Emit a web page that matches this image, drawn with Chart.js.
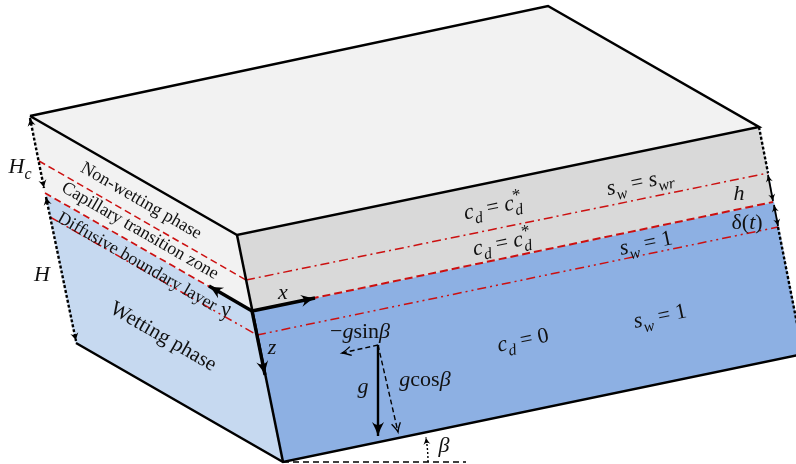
<!DOCTYPE html>
<html>
<head>
<meta charset="utf-8">
<script src="https://cdn.jsdelivr.net/npm/chart.js@4.4.1/dist/chart.umd.min.js"></script>
<style>
  html, body { margin: 0; padding: 0; background: #fff; }
  #box { width: 796px; height: 464px; }
</style>
</head>
<body>
<div id="box"><canvas id="layers" width="796" height="464"></canvas></div>
<script>
// faces of the block (pixel-like coordinates, y down)
const topFace = [[30, 116], [548, 6], [759, 127], [237, 235]];
const leftFace = [[30, 116], [237, 235], [283, 462], [76, 343]];
const leftNonWetting = [[30, 116], [237, 235], [252, 311], [45, 193]];
const rightFace = [[237, 235], [759, 127], [803, 354], [283, 462]];
const rightNonWetting = [[237, 235], [759, 127], [773, 202], [252, 311]];

// layer boundaries
const capillaryLeft = [[39, 161], [246, 280]];
const capillaryRight = [[246, 280], [768, 173]];
const wettingLeft = [[45, 193], [252, 311]];
const wettingRight = [[252, 311], [773, 202]];
const diffusiveLeft = [[50, 217], [257, 335]];
const diffusiveRight = [[257, 335], [778, 227]];

// edges
const topOutline = [[30, 116], [548, 6], [759, 127], [237, 235], [30, 116]];
const frontEdge = [[237, 235], [283, 462]];
const bottomEdges = [[76, 343], [283, 462], [803, 354]];
const rightEdgeTop = [[759, 127], [768, 173]];
const rightEdgeBottom = [[778, 227], [803, 354]];

// dimension arrows
const hcArrow = [[30, 118], [44, 188]];
const bigHArrow = [[46, 197], [76, 341]];
const hArrow = [[768, 175], [773, 201]];
const deltaArrow = [[774, 205], [778, 226]];

// axes and gravity
const axisX = [[252, 311], [315, 298]];
const axisY = [[252, 311], [209, 286]];
const axisZ = [[252, 311], [265, 375]];
const gravity = [[378, 345], [378, 436]];
const gCos = [[378, 345], [398, 432]];
const gSin = [[378, 345], [342, 353]];
const slopeBase = [[283, 462], [466, 462]];
const betaArc = { centre: [283, 462], radius: 145, from: 0, to: -0.17 };

// text
const phaseNames = ['Non-wetting phase', 'Capillary transition zone', 'Diffusive boundary layer', 'Wetting phase'];
const phaseAt = [[141, 201], [140, 231], [137, 262], [163, 337]];
const mathLabels = [
  { at: [20, 166], rot: 0, parts: [['H', 'i'], ['c', 'b']] },
  { at: [42, 274], rot: 0, parts: [['H', 'i']] },
  { at: [739, 193], rot: 0, parts: [['h', 'i']] },
  { at: [747, 222], rot: 0, parts: [['δ(', 'r'], ['t', 'i'], [')', 'r']] },
  { at: [493, 207], rot: -11.7, parts: [['c', 'i'], ['d', 'b'], [' = ', 'r'], ['c', 'i'], ['*', 'p'], ['d', 'b']] },
  { at: [502, 243], rot: -11.7, parts: [['c', 'i'], ['d', 'b'], [' = ', 'r'], ['c', 'i'], ['*', 'p'], ['d', 'b']] },
  { at: [640, 182], rot: -11.7, parts: [['s', 'i'], ['w', 'b'], [' = ', 'r'], ['s', 'i'], ['wr', 'b']] },
  { at: [646, 243], rot: -11.7, parts: [['s', 'i'], ['w', 'b'], [' = ', 'r'], ['1', 'r']] },
  { at: [523, 340], rot: -11.7, parts: [['c', 'i'], ['d', 'b'], [' = ', 'r'], ['0', 'r']] },
  { at: [660, 316], rot: -11.7, parts: [['s', 'i'], ['w', 'b'], [' = ', 'r'], ['1', 'r']] },
  { at: [283, 292], rot: 0, parts: [['x', 'i']] },
  { at: [226, 309], rot: 0, parts: [['y', 'i']] },
  { at: [272, 347], rot: 0, parts: [['z', 'i']] },
  { at: [360, 331], rot: 0, parts: [['−', 'r'], ['g', 'i'], ['sin', 'r'], ['β', 'i']] },
  { at: [363, 386], rot: 0, parts: [['g', 'i']] },
  { at: [425, 379], rot: 0, parts: [['g', 'i'], ['cos', 'r'], ['β', 'i']] },
  { at: [444, 445], rot: 0, parts: [['β', 'i']] },
];

const SERIF = "'Liberation Serif', 'DejaVu Serif', serif";
const RED = '#cc1010';

const toXY = (pts) => pts.map(([x, y]) => ({ x, y }));

function shape(pts, color) {
  return {
    data: toXY([...pts, pts[0]]),
    showLine: true,
    fill: 'shape',
    backgroundColor: color,
    borderColor: color,
    borderWidth: 1,
    pointRadius: 0,
  };
}

function line(pts, color, width, dash) {
  return {
    data: toXY(pts),
    showLine: true,
    fill: false,
    borderColor: color,
    borderWidth: width,
    borderDash: dash || [],
    borderCapStyle: 'butt',
    borderJoinStyle: 'miter',
    pointRadius: 0,
  };
}

const dotted = [3, 2];
const dashDot = [9, 4, 2, 4];
const dashDotDot = [9, 4, 2, 4, 2, 4];

// painter's order: first is at the bottom
const layers = [
  shape(rightFace, '#8db0e3'),
  shape(rightNonWetting, '#d9d9d9'),
  shape(leftFace, '#c6d9f0'),
  shape(leftNonWetting, '#f2f2f2'),
  shape(topFace, '#f2f2f2'),
  line(capillaryLeft, RED, 1.5, [7, 4]),
  line(capillaryRight, RED, 1.5, dashDot),
  line(wettingLeft, RED, 1.7, [7, 4]),
  line(wettingRight, RED, 2, [8, 4]),
  line(diffusiveLeft, RED, 1.5, dashDotDot),
  line(diffusiveRight, RED, 1.5, dashDotDot),
  line(topOutline, '#000', 2.5),
  line(frontEdge, '#000', 2.5),
  line(bottomEdges, '#000', 2.5),
  line(rightEdgeTop, '#000', 2.4, dotted),
  line(rightEdgeBottom, '#000', 2.4, dotted),
  line(hcArrow, '#000', 2.4, dotted),
  line(bigHArrow, '#000', 2.4, dotted),
  line(hArrow, '#000', 1.8),
  line(deltaArrow, '#000', 1.8),
  line(slopeBase, '#000', 1.5, [6, 4]),
  line(gSin, '#000', 1.4, [5, 3]),
  line(gCos, '#000', 1.4, [5, 3]),
  line(gravity, '#000', 2.4),
  line(axisX, '#000', 3.4),
  line(axisY, '#000', 3.4),
  line(axisZ, '#000', 3.4),
];
layers.forEach((ds, i) => { ds.order = layers.length - i; });

function head(ctx, tip, from, len, wid, open) {
  const a = Math.atan2(tip.y - from.y, tip.x - from.x);
  ctx.save();
  ctx.translate(tip.x, tip.y);
  ctx.rotate(a);
  ctx.beginPath();
  if (open) {
    ctx.moveTo(-len, -wid);
    ctx.quadraticCurveTo(-len * 0.35, -wid * 0.2, 0, 0);
    ctx.quadraticCurveTo(-len * 0.35, wid * 0.2, -len, wid);
    ctx.lineWidth = 1.3;
    ctx.setLineDash([]);
    ctx.stroke();
  } else {
    ctx.moveTo(0, 0);
    ctx.quadraticCurveTo(-len * 0.45, -wid * 0.3, -len, -wid);
    ctx.quadraticCurveTo(-len * 0.55, 0, -len, wid);
    ctx.quadraticCurveTo(-len * 0.45, wid * 0.3, 0, 0);
    ctx.fill();
  }
  ctx.restore();
}

function drawRich(ctx, x, y, rot, parts, size) {
  const fontOf = (k) => {
    if (k === 'r') return `${size}px ${SERIF}`;
    if (k === 'i') return `italic ${size}px ${SERIF}`;
    if (k === 'p') return `${Math.round(size * 0.75)}px ${SERIF}`;
    return `italic ${Math.round(size * 0.72)}px ${SERIF}`;
  };
  const run = (paint) => {
    let cx = 0;
    let supStart = null;
    let supEnd = 0;
    parts.forEach(([t, k]) => {
      ctx.font = fontOf(k);
      let dy = 0;
      let startX = cx;
      if (k === 'b') {
        dy = size * 0.28;
        if (supStart !== null) startX = supStart;
      } else if (k === 'p') {
        dy = -size * 0.38;
      }
      if (paint) ctx.fillText(t, startX, dy);
      const end = startX + ctx.measureText(t).width;
      if (k === 'p') {
        supStart = startX;
        supEnd = end;
        cx = end;
      } else if (k === 'b' && supStart !== null) {
        cx = Math.max(end, supEnd);
        supStart = null;
      } else {
        cx = end;
        supStart = null;
      }
    });
    return cx;
  };
  ctx.save();
  ctx.translate(x, y);
  ctx.rotate(rot * Math.PI / 180);
  ctx.textBaseline = 'alphabetic';
  ctx.textAlign = 'left';
  ctx.fillStyle = '#111';
  const w = run(false);
  ctx.translate(-w / 2, size * 0.3);
  run(true);
  ctx.restore();
}

const annotations = {
  id: 'annotations',
  afterDatasetsDraw(chart) {
    const { ctx, scales: { x, y } } = chart;
    const p = ([a, b]) => ({ x: x.getPixelForValue(a), y: y.getPixelForValue(b) });
    ctx.save();
    ctx.fillStyle = '#000';
    ctx.strokeStyle = '#000';

    // slope angle arc
    const c = p(betaArc.centre);
    const r = x.getPixelForValue(betaArc.centre[0] + betaArc.radius) - c.x;
    ctx.beginPath();
    ctx.lineWidth = 1.4;
    ctx.setLineDash([2, 2]);
    ctx.arc(c.x, c.y, r, betaArc.from, betaArc.to, true);
    ctx.stroke();
    ctx.setLineDash([]);
    const arcTip = { x: c.x + r * Math.cos(betaArc.to), y: c.y + r * Math.sin(betaArc.to) };
    const arcBack = { x: c.x + r * Math.cos(betaArc.to + 0.05), y: c.y + r * Math.sin(betaArc.to + 0.05) };
    head(ctx, arcTip, arcBack, 7, 3.5, false);

    // arrow heads
    const ends = (pts) => [p(pts[0]), p(pts[pts.length - 1])];
    [axisX, axisY, axisZ].forEach((a) => {
      const [s, e] = ends(a);
      head(ctx, e, s, 14, 6, false);
    });
    let [s, e] = ends(gravity);
    head(ctx, e, s, 14, 6, false);
    [gCos, gSin].forEach((a) => {
      [s, e] = ends(a);
      head(ctx, e, s, 9, 4.5, true);
    });
    [hcArrow, bigHArrow].forEach((a) => {
      [s, e] = ends(a);
      head(ctx, e, s, 8, 4, false);
      head(ctx, s, e, 8, 4, false);
    });
    [hArrow, deltaArrow].forEach((a) => {
      [s, e] = ends(a);
      head(ctx, e, s, 7, 3.5, false);
      head(ctx, s, e, 7, 3.5, false);
    });

    // phase names along the left face
    const tilt = 29.9;
    phaseNames.forEach((name, i) => {
      const at = p(phaseAt[i]);
      const size = i === 3 ? 21 : 18;
      ctx.save();
      ctx.translate(at.x, at.y);
      ctx.rotate(tilt * Math.PI / 180);
      ctx.font = `${size}px ${SERIF}`;
      ctx.fillStyle = '#111';
      ctx.textAlign = 'center';
      ctx.textBaseline = 'middle';
      ctx.fillText(name, 0, 0);
      ctx.restore();
    });

    mathLabels.forEach((l) => {
      const at = p(l.at);
      drawRich(ctx, at.x, at.y, l.rot, l.parts, 22);
    });
    ctx.restore();
  },
};

// eslint-disable-next-line no-unused-vars
const diagram = new Chart(document.getElementById('layers'), {
  type: 'scatter',
  data: { datasets: layers },
  options: {
    responsive: false,
    animation: false,
    events: [],
    layout: { padding: 0 },
    plugins: {
      legend: { display: false },
      tooltip: { enabled: false },
    },
    scales: {
      x: { type: 'linear', min: 0, max: 796, display: false },
      y: { type: 'linear', min: 0, max: 464, reverse: true, display: false },
    },
  },
  plugins: [annotations],
});
</script>
</body>
</html>
